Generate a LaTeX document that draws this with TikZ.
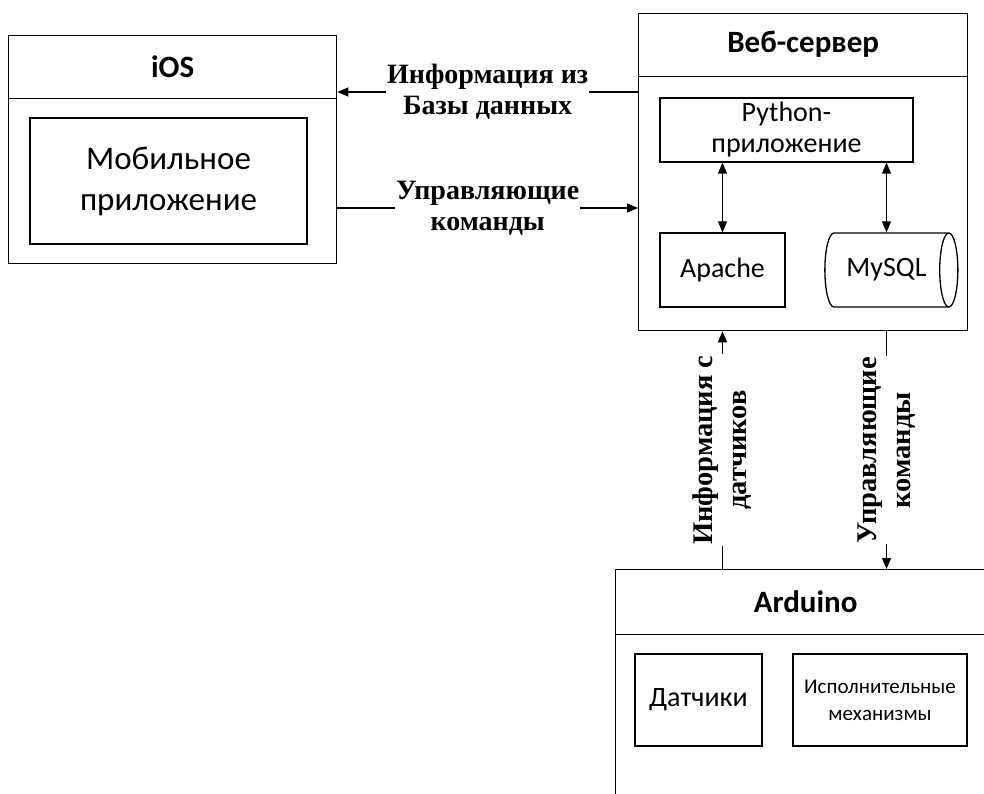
\documentclass[tikz,border=0pt]{standalone}
\usepackage{fontspec}
\setmainfont{Carlito}
\newfontfamily\lblfont{Liberation Serif}
\usetikzlibrary{shapes.geometric,arrows.meta}

\tikzset{
  box/.style={draw, inner sep=0pt, align=center},
  head/.style={font=\fontsize{31}{36}\selectfont\bfseries},
  lbl/.style={fill=white, inner sep=1pt, align=center, font=\lblfont\fontsize{28}{31}\selectfont\bfseries},
  lblv/.style={lbl, rotate=90, font=\lblfont\fontsize{28.5}{34}\selectfont\bfseries},
  conn/.style={-{Triangle[length=11pt,width=9pt]}},
  dconn/.style={{Triangle[length=11pt,width=9pt]}-{Triangle[length=11pt,width=9pt]}},
}

\begin{document}
\begin{tikzpicture}[x=1pt,y=-1pt,line width=1.3pt]
    \useasboundingbox (0,0) rectangle (984,794);
    \clip (0,0) rectangle (984,794);

    % iOS
    \node[box, anchor=north west, minimum width=328pt, minimum height=228pt] (ios) at (8,35) {};
    \node[head, anchor=north, minimum height=62pt] (iosT) at (ios.north) {iOS};
    \draw (ios.west |- iosT.south) -- (ios.east |- iosT.south);
    \node[box, minimum width=277pt, minimum height=126pt, font=\fontsize{33}{41}\selectfont] (mob) at (168.5,181) {Мобильное\\приложение};

    % web server
    \node[box, anchor=north west, minimum width=329pt, minimum height=317pt] (web) at (638,13) {};
    \node[head, anchor=north, minimum height=62pt] (webT) at (web.north) {Веб-сервер};
    \draw (web.west |- webT.south) -- (web.east |- webT.south);
    \node[box, minimum width=253pt, minimum height=64pt, font=\fontsize{28}{31}\selectfont] (py) at (786.5,130) {Python-\\приложение};
    \node[box, minimum width=125pt, minimum height=74pt, font=\fontsize{28}{34}\selectfont] (apache) at (722.5,270) {Apache};
    \node[box, cylinder, aspect=0.8, minimum width=74pt, minimum height=133pt, font=\fontsize{28}{34}\selectfont] (mysql) at (886.5,270) {MySQL};
    \draw[dconn] (py.south -| apache.north) -- (apache.north);
    \draw[dconn] (py.south -| mysql.north) -- (mysql.north);

    % Arduino
    \node[box, anchor=north west, minimum width=380pt, minimum height=300pt] (ard) at (615,569) {};
    \node[head, anchor=north, minimum height=64pt] (ardT) at (ard.north) {Arduino};
    \draw (ard.west |- ardT.south) -- (ard.east |- ardT.south);
    \node[box, minimum width=127pt, minimum height=92pt, font=\fontsize{28}{34}\selectfont] (sens) at (698.5,700) {Датчики};
    \node[box, minimum width=174pt, minimum height=92pt, font=\fontsize{21}{27}\selectfont] (act) at (880,700) {Исполнительные\\механизмы};

    % connectors
    \coordinate (rowA) at (0,92);
    \coordinate (rowB) at (0,208);
    \draw[conn] (web.west |- rowA) -- node[lbl] {Информация из\\Базы данных} (ios.east |- rowA);
    \draw[conn] (ios.east |- rowB) -- node[lbl] {Управляющие\\команды} (web.west |- rowB);
    \draw[conn] (ard.north -| apache) -- node[lblv] {Информация с\\датчиков} (web.south -| apache);
    \draw[conn] (web.south -| mysql) -- node[lblv] {Управляющие\\команды} (ard.north -| mysql);
\end{tikzpicture}
\end{document}
